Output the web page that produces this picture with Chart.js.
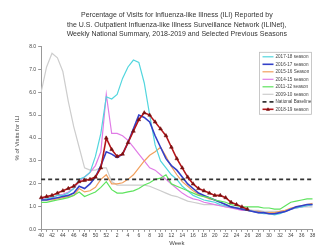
<!DOCTYPE html>
<html>
<head>
<meta charset="utf-8">
<script src="https://cdn.jsdelivr.net/npm/chart.js@4.4.1/dist/chart.umd.min.js"></script>
<style>
  html, body { margin: 0; padding: 0; background: #fff; }
  #wrap { width: 317px; height: 249px; }
</style>
</head>
<body>
<div id="wrap"><canvas id="iliChart" width="317" height="249"></canvas></div>
<script>
// MMWR weeks, Oct (40) through Sep (38)
const weeks = [40,41,42,43,44,45,46,47,48,49,50,51,52,
  1,2,3,4,5,6,7,8,9,10,11,12,13,14,15,16,17,18,19,20,21,22,23,24,25,26,
  27,28,29,30,31,32,33,34,35,36,37,38];

const yTicks = [0, 1, 2, 3, 4, 5, 6, 7, 8];

const season1718 = [1.3,1.35,1.4,1.5,1.5,1.6,1.8,2.2,2.3,2.5,3.2,4.2,5.8,
  5.7,5.9,6.6,7.1,7.4,7.3,6.4,5.0,3.7,3.0,2.7,2.4,2.2,1.9,1.7,1.5,1.4,1.3,1.25,1.2,1.1,1.05,1.0,0.95,0.9,0.85,
  0.8,0.75,0.7,0.7,0.65,0.7,0.8,0.9,0.95,1.0,1.05,1.1];

const season1617 = [1.3,1.3,1.35,1.4,1.45,1.5,1.6,1.9,1.8,2.0,2.3,2.8,3.4,
  3.3,3.15,3.3,3.8,4.4,5.0,4.9,4.7,4.1,3.6,3.1,2.8,2.6,2.3,2.0,1.8,1.6,1.5,1.4,1.3,1.2,1.1,1.0,0.95,0.9,0.85,
  0.8,0.75,0.75,0.7,0.7,0.75,0.8,0.9,1.0,1.05,1.1,1.1];

const season1516 = [1.3,1.3,1.3,1.35,1.4,1.45,1.5,1.8,1.65,1.7,1.85,2.2,2.4,
  2.0,2.0,2.05,2.2,2.4,2.7,3.0,3.25,3.4,3.6,3.2,2.75,2.4,2.1,1.9,1.7,1.55,1.45,1.35,1.3,1.2,1.1,1.0,0.95,0.9,0.85,
  0.8,0.8,0.75,0.75,0.75,0.8,0.85,0.95,1.0,1.05,1.1,1.15];

const season1415 = [1.35,1.4,1.4,1.5,1.55,1.65,1.8,2.1,2.3,2.5,2.8,3.4,5.9,
  4.2,4.2,4.1,3.9,3.6,3.3,3.0,2.7,2.6,2.4,2.2,2.0,1.8,1.6,1.45,1.35,1.3,1.2,1.15,1.1,1.05,1.0,0.95,0.9,0.85,0.85,
  0.8,0.75,0.75,0.7,0.7,0.75,0.8,0.9,0.95,1.0,1.05,1.1];

const season1112 = [1.2,1.2,1.25,1.3,1.35,1.4,1.5,1.65,1.45,1.55,1.65,1.85,2.1,
  1.75,1.6,1.6,1.65,1.7,1.8,1.95,2.05,2.2,2.25,2.4,2.0,1.9,1.8,1.7,1.6,1.5,1.45,1.4,1.3,1.25,1.2,1.1,1.05,1.0,1.0,
  1.0,1.0,0.95,0.95,0.9,0.9,1.05,1.2,1.25,1.3,1.35,1.35];

const season0910 = [6.0,7.1,7.7,7.5,6.9,5.6,4.5,3.6,2.7,2.6,2.6,2.7,2.7,
  2.1,1.95,1.95,1.95,1.95,1.95,1.95,1.9,1.8,1.7,1.6,1.5,1.45,1.35,1.25,1.2,1.15,1.1,1.1,1.1,1.05,1.0,1.0,0.95,0.9,0.9,
  0.85,0.85,0.8,0.8,0.8,0.8,0.85,0.9,0.95,1.0,1.0,1.0];

const baseline = weeks.map(() => 2.2);

// current season stops at week 26
const season1819 = [1.4,1.45,1.5,1.6,1.7,1.8,1.9,2.1,2.15,2.2,2.3,2.7,4.0,
  3.5,3.2,3.3,3.8,4.3,4.8,5.1,5.0,4.7,4.4,4.1,3.6,3.1,2.7,2.3,2.0,1.8,1.7,1.6,1.5,1.5,1.4,1.2,1.1,1.0,0.9,
  null,null,null,null,null,null,null,null,null,null,null,null];

const fontFamily = "'Liberation Sans', Arial, sans-serif";
const textColor = '#444';

function line(label, data, color, width, order) {
  return {
    label: label,
    data: data,
    borderColor: color,
    backgroundColor: color,
    borderWidth: width,
    pointRadius: 0,
    tension: 0,
    order: order
  };
}

const datasets = [
  line('2017-18 season', season1718, '#52d6de', 1.2, 5),
  line('2016-17 season', season1617, '#3340c8', 1.6, 4),
  line('2015-16 Season', season1516, '#f2a05e', 1.2, 6),
  line('2014-15 season', season1415, '#e07ce6', 1.2, 7),
  line('2011-12 season', season1112, '#5ee35e', 1.2, 3),
  line('2009-10 season', season0910, '#cdcdcd', 1.2, 8),
  Object.assign(line('National Baseline', baseline, '#333333', 1.8, 1), { borderDash: [4, 3] }),
  Object.assign(line('2018-19 season', season1819, '#b3161b', 1.6, 0), {
    pointStyle: 'triangle',
    pointRadius: 2.2,
    pointBackgroundColor: '#7a1010',
    pointBorderColor: '#7a1010',
    pointBorderWidth: 0.5,
    spanGaps: false
  })
];

// legend box drawn inside the plot, top right
const insideLegend = {
  id: 'insideLegend',
  afterDraw(chart) {
    const ctx = chart.ctx;
    const area = chart.chartArea;
    const boxW = 52, rowH = 7.5;
    const left = area.right - boxW - 1;
    const top = area.top + 6;
    const sets = chart.data.datasets;
    ctx.save();
    ctx.fillStyle = '#fff';
    ctx.strokeStyle = '#bbb';
    ctx.lineWidth = 0.8;
    ctx.fillRect(left, top, boxW, rowH * sets.length + 2);
    ctx.strokeRect(left, top, boxW, rowH * sets.length + 2);
    ctx.font = '4.6px ' + fontFamily;
    ctx.textBaseline = 'middle';
    sets.forEach((ds, i) => {
      const y = top + 4.5 + i * rowH;
      ctx.strokeStyle = ds.borderColor;
      ctx.lineWidth = ds.borderWidth;
      ctx.setLineDash(ds.borderDash || []);
      ctx.beginPath();
      ctx.moveTo(left + 3, y);
      ctx.lineTo(left + 14, y);
      ctx.stroke();
      ctx.setLineDash([]);
      if (ds.pointStyle === 'triangle') {
        ctx.fillStyle = ds.pointBackgroundColor;
        ctx.beginPath();
        ctx.moveTo(left + 8.5, y - 2);
        ctx.lineTo(left + 10.5, y + 1.5);
        ctx.lineTo(left + 6.5, y + 1.5);
        ctx.closePath();
        ctx.fill();
      }
      ctx.fillStyle = '#444';
      ctx.fillText(ds.label, left + 16, y);
    });
    ctx.restore();
  }
};

new Chart(document.getElementById('iliChart'), {
  type: 'line',
  data: { labels: weeks, datasets: datasets },
  plugins: [insideLegend],
  options: {
    responsive: false,
    animation: false,
    devicePixelRatio: 1,
    layout: { padding: { right: 1, left: 14 } },
    plugins: {
      legend: { display: false },
      tooltip: { enabled: false },
      title: {
        display: true,
        fullSize: false,
        text: [
          'Percentage of Visits for Influenza-like Illness (ILI) Reported by',
          'the U.S. Outpatient Influenza-like Illness Surveillance Network (ILINet),',
          'Weekly National Summary, 2018-2019 and Selected Previous Seasons'
        ],
        color: '#333',
        font: { family: fontFamily, size: 7, weight: 'normal', lineHeight: 1.3 },
        padding: { top: 11, bottom: 8 }
      }
    },
    scales: {
      x: {
        offset: false,
        grid: { drawOnChartArea: false, tickLength: 2, color: '#999' },
        border: { color: '#999' },
        ticks: {
          autoSkip: false,
          maxRotation: 0,
          padding: 1,
          color: textColor,
          font: { family: fontFamily, size: 5 },
          callback: (v, i) => (i % 2 === 0 ? weeks[i] : '')
        },
        title: {
          display: true,
          text: 'Week',
          color: textColor,
          font: { family: fontFamily, size: 6 },
          padding: { top: 0, bottom: 2 }
        }
      },
      y: {
        min: yTicks[0],
        max: yTicks[yTicks.length - 1],
        afterBuildTicks: (axis) => { axis.ticks = yTicks.map(v => ({ value: v })); },
        grid: { drawOnChartArea: false, tickLength: 3, color: '#999' },
        border: { color: '#999' },
        ticks: {
          padding: 2,
          color: textColor,
          font: { family: fontFamily, size: 5 },
          callback: (v) => Number(v).toFixed(1)
        },
        title: {
          display: true,
          text: '% of Visits for ILI',
          color: textColor,
          font: { family: fontFamily, size: 6 },
          padding: { top: 0, bottom: 6 }
        }
      }
    }
  }
});
</script>
</body>
</html>
